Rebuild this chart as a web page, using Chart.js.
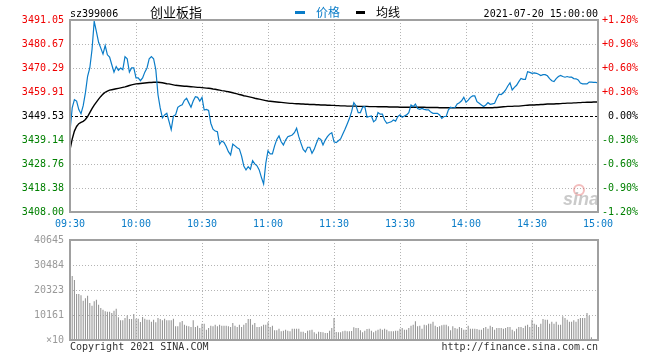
<!DOCTYPE html>
<html>
<head>
<meta charset="utf-8">
<script src="https://cdn.jsdelivr.net/npm/chart.js@4.4.0/dist/chart.umd.min.js"></script>
<style>
  body { margin: 0; background: #fff; }
  #wrap { position: relative; width: 660px; height: 360px; }
  #priceChart { position: absolute; left: 0; top: 0; }
  #volChart { position: absolute; left: 0; top: 228px; }
</style>
</head>
<body>
<div id="wrap">
  <canvas id="priceChart" width="660" height="236"></canvas>
  <canvas id="volChart" width="660" height="132"></canvas>
</div>
<script>
// axis data
const timeLabels = ['09:30', '10:00', '10:30', '11:00', '11:30', '13:30', '14:00', '14:30', '15:00'];
const tickMinutes = [0, 30, 60, 90, 120, 150, 180, 210, 240];
const priceTicks = [3408.00, 3418.38, 3428.76, 3439.14, 3449.53, 3459.91, 3470.29, 3480.67, 3491.05];
const pctLabels = ['-1.20%', '-0.90%', '-0.60%', '-0.30%', ' 0.00%', '+0.30%', '+0.60%', '+0.90%', '+1.20%'];
const volTicks = [0, 10161, 20323, 30484, 40645];
const volTickLabels = ['×10', '10161', '20323', '30484', '40645'];
const basePrice = 3449.53;

// one value per minute, 09:30 .. 11:30/13:00 .. 15:00
const price = [
  3443.0, 3453.0, 3456.6, 3456.0, 3452.3, 3450.5, 3454.0, 3459.5, 3466.7, 3470.3,
  3478.2, 3490.5, 3486.0, 3481.4, 3478.9, 3476.3, 3480.0, 3476.0, 3475.0, 3471.7,
  3468.5, 3470.9, 3469.3, 3470.3, 3469.6, 3475.2, 3474.3, 3468.5, 3470.3, 3470.3,
  3466.0, 3466.0, 3464.8, 3466.0, 3468.5, 3470.3, 3474.3, 3475.2, 3474.3, 3469.6,
  3458.7, 3453.0, 3448.7, 3450.0, 3450.7, 3447.2, 3443.6, 3449.5, 3450.0, 3453.3,
  3454.0, 3454.4, 3456.3, 3457.2, 3455.2, 3453.3, 3456.0, 3457.9, 3457.6, 3456.0,
  3457.6, 3452.1, 3452.4, 3451.9, 3446.4, 3443.8, 3443.0, 3442.7, 3437.3, 3438.7,
  3438.1, 3436.3, 3434.1, 3432.7, 3437.4, 3436.6, 3435.8, 3435.2, 3432.2, 3427.9,
  3426.2, 3427.6, 3426.5, 3430.2, 3428.8, 3428.0, 3426.2, 3423.0, 3420.1, 3429.1,
  3434.5, 3433.1, 3433.1, 3436.6, 3439.4, 3440.9, 3438.4, 3437.0, 3439.1, 3440.6,
  3440.9, 3441.3, 3442.3, 3444.2, 3440.6, 3437.7, 3435.1, 3434.0, 3436.0, 3436.0,
  3433.4, 3435.1, 3437.7, 3440.0, 3439.4, 3437.0, 3439.1, 3440.6, 3441.7, 3442.3,
  3438.4, 3438.0, 3438.8, 3439.6, 3441.7, 3443.8, 3446.1, 3448.4, 3451.4, 3455.3,
  3453.9, 3451.0, 3451.0, 3453.3, 3453.6, 3449.0, 3449.3, 3449.5, 3447.0, 3447.8,
  3451.0, 3450.3, 3450.3, 3447.8, 3446.4, 3446.7, 3447.0, 3447.8, 3447.3, 3449.3,
  3450.0, 3449.0, 3449.5, 3450.0, 3451.0, 3454.3, 3453.6, 3454.7, 3452.8, 3452.4,
  3452.8, 3452.4, 3452.2, 3452.2, 3451.2, 3450.7, 3450.7, 3450.7, 3450.0, 3448.5,
  3449.3, 3449.3, 3452.2, 3453.3, 3453.0, 3453.2, 3454.7, 3455.3, 3456.1, 3457.6,
  3455.5, 3456.4, 3457.6, 3458.2, 3458.2, 3455.7, 3455.0, 3454.3, 3453.6, 3454.3,
  3455.3, 3454.6, 3454.8, 3455.0, 3457.2, 3459.0, 3458.8, 3459.6, 3460.8, 3462.5,
  3463.9, 3460.8, 3461.9, 3462.8, 3464.4, 3465.8, 3465.4, 3465.4, 3468.7, 3468.4,
  3468.0, 3468.2, 3468.0, 3467.6, 3467.0, 3467.4, 3467.4, 3466.9, 3465.7, 3464.8,
  3464.4, 3465.7, 3466.6, 3467.1, 3466.6, 3466.3, 3466.6, 3466.3, 3466.3, 3465.7,
  3465.6, 3465.1, 3463.8, 3463.4, 3463.4, 3463.4, 3464.2, 3464.2, 3464.1, 3464.1,
  3463.7
];

const avgPrice = [
  3435.0, 3439.5, 3443.0, 3445.0, 3446.2, 3446.8, 3447.2, 3448.0, 3449.3, 3451.0,
  3452.7, 3454.2, 3455.5, 3456.8, 3458.0, 3459.0, 3459.8, 3460.3, 3460.7, 3460.9,
  3461.1, 3461.3, 3461.5, 3461.7, 3461.9, 3462.1, 3462.4, 3462.7, 3463.0, 3463.2,
  3463.4, 3463.5, 3463.6, 3463.7, 3463.8, 3463.9, 3464.0, 3464.0, 3464.1, 3464.1,
  3464.1, 3464.0, 3463.9, 3463.7, 3463.5, 3463.4, 3463.2, 3463.0, 3462.8, 3462.7,
  3462.6, 3462.5, 3462.4, 3462.4, 3462.3, 3462.2, 3462.1, 3462.0, 3461.9, 3461.9,
  3461.8, 3461.7, 3461.6, 3461.5, 3461.4, 3461.2, 3461.1, 3460.9, 3460.7, 3460.5,
  3460.4, 3460.2, 3460.0, 3459.8, 3459.6, 3459.3, 3459.1, 3458.8, 3458.6, 3458.3,
  3458.1, 3457.9, 3457.7, 3457.5, 3457.2, 3457.0, 3456.8, 3456.6, 3456.4, 3456.2,
  3456.0, 3455.9, 3455.8, 3455.7, 3455.6, 3455.5, 3455.4, 3455.3, 3455.2, 3455.1,
  3455.0, 3455.0, 3454.9, 3454.8, 3454.8, 3454.7, 3454.7, 3454.6, 3454.6, 3454.5,
  3454.5, 3454.5, 3454.4, 3454.4, 3454.3, 3454.3, 3454.3, 3454.2, 3454.2, 3454.1,
  3454.1, 3454.0, 3454.0, 3453.9, 3453.9, 3453.9, 3453.8, 3453.8, 3453.8, 3453.8,
  3453.8, 3453.7, 3453.7, 3453.7, 3453.7, 3453.7, 3453.6, 3453.6, 3453.6, 3453.6,
  3453.5, 3453.5, 3453.5, 3453.5, 3453.5, 3453.4, 3453.4, 3453.4, 3453.4, 3453.4,
  3453.3, 3453.3, 3453.3, 3453.3, 3453.3, 3453.3, 3453.3, 3453.3, 3453.3, 3453.3,
  3453.3, 3453.3, 3453.2, 3453.2, 3453.2, 3453.2, 3453.2, 3453.2, 3453.1, 3453.1,
  3453.1, 3453.1, 3453.1, 3453.1, 3453.1, 3453.1, 3453.1, 3453.1, 3453.1, 3453.1,
  3453.1, 3453.1, 3453.1, 3453.1, 3453.1, 3453.1, 3453.1, 3453.1, 3453.1, 3453.1,
  3453.1, 3453.1, 3453.1, 3453.2, 3453.2, 3453.3, 3453.4, 3453.5, 3453.6, 3453.7,
  3453.7, 3453.7, 3453.8, 3453.8, 3453.8, 3453.9, 3454.0, 3454.1, 3454.2, 3454.3,
  3454.3, 3454.3, 3454.4, 3454.4, 3454.5, 3454.5, 3454.6, 3454.7, 3454.7, 3454.7,
  3454.7, 3454.8, 3454.8, 3454.9, 3455.0, 3455.0, 3455.1, 3455.1, 3455.1, 3455.2,
  3455.2, 3455.3, 3455.3, 3455.4, 3455.4, 3455.5, 3455.5, 3455.5, 3455.6, 3455.6,
  3455.6
];

// volume, in the chart's x10 units
const volume = [
  40645, 26000, 24400, 18700, 18700, 18160, 16000, 17000, 18000, 15000,
  13950, 15700, 16400, 14350, 13000, 12300, 11650, 11500, 11500, 11000,
  11900, 12700, 9200, 8000, 8000, 8940, 10000, 8500, 8500, 10600,
  8670, 8670, 7316, 9350, 8670, 8265, 8265, 7450, 8265, 7180,
  8940, 8535, 7990, 8670, 7990, 7990, 7990, 8670, 5550, 5550,
  7180, 7720, 6230, 5825, 5550, 5280, 7990, 5280, 5825, 4880,
  6640, 6640, 4200, 4880, 5825, 5555, 6230, 5555, 6230, 5825,
  5825, 5825, 5555, 5285, 6910, 5825, 5285, 6230, 5285, 6230,
  6910, 8535, 8535, 6230, 6910, 5285, 5285, 5555, 6230, 6230,
  7180, 5285, 5825, 3930, 3930, 4605, 3520, 3795, 4200, 3795,
  3520, 4605, 4605, 4605, 4605, 3390, 3390, 2850, 3795, 3930,
  4200, 3115, 2575, 3390, 3250, 3115, 2850, 2850, 3800, 4880,
  8940, 3250, 3115, 3115, 3520, 3795, 3520, 3520, 3650, 5150,
  4880, 4880, 3930, 3115, 3795, 4470, 4605, 3795, 3115, 3795,
  4200, 4605, 4200, 4605, 4200, 3520, 3520, 3520, 3795, 3795,
  4605, 4880, 4200, 4200, 4880, 5825, 6230, 7590, 5555, 5825,
  4605, 6230, 5960, 6640, 6640, 7450, 5825, 5285, 5555, 5960,
  6230, 6230, 5555, 3930, 5555, 4880, 4605, 5285, 4880, 4200,
  4200, 5825, 4605, 4605, 4605, 4470, 4200, 4200, 4880, 5285,
  4605, 5825, 5285, 4200, 4880, 4880, 4880, 4605, 4880, 5285,
  5285, 4200, 3520, 4605, 5285, 5285, 4880, 5825, 6230, 5285,
  8265, 6640, 6230, 5285, 6640, 8535, 8265, 8265, 6640, 7450,
  6640, 7450, 6230, 6230, 9620, 8940, 8265, 7450, 7450, 7995,
  7450, 8535, 8940, 8940, 8940, 10975, 9890, 1085, 0, 0,
  0
];

const MONO = "'DejaVu Sans Mono', 'Liberation Mono', monospace";
const CJK = "'Noto Sans CJK SC', sans-serif";
const RED = '#f00000';
const GREEN = '#008000';
const BLUE = '#0a7cc8';
const GRID = '#b4b4b4';
const FRAME = '#a0a0a0';

Chart.defaults.font.family = MONO;
Chart.defaults.font.size = 10;

function tickColor(i) {
  if (i > 4) return RED;
  if (i < 4) return GREEN;
  return '#000';
}

// dotted grid from the scales, frame round the chart area
function drawGrid(chart, hValues) {
  const { ctx, chartArea: a, scales } = chart;
  ctx.save();
  ctx.strokeStyle = GRID;
  ctx.lineWidth = 1;
  ctx.setLineDash([1, 2]);
  ctx.beginPath();
  tickMinutes.forEach(v => {
    const px = Math.round(scales.x.getPixelForValue(v)) + 0.5;
    if (px <= a.left + 2 || px >= a.right - 2) return;
    ctx.moveTo(px, a.top);
    ctx.lineTo(px, a.bottom);
  });
  hValues.forEach(v => {
    const py = Math.round(scales.y.getPixelForValue(v)) + 0.5;
    if (py <= a.top + 2 || py >= a.bottom - 2) return;
    ctx.moveTo(a.left, py);
    ctx.lineTo(a.right, py);
  });
  ctx.stroke();
  ctx.restore();
}

function drawFrame(chart) {
  const { ctx, chartArea: a } = chart;
  ctx.save();
  ctx.strokeStyle = FRAME;
  ctx.lineWidth = 2;
  ctx.strokeRect(a.left, a.top, a.right - a.left, a.bottom - a.top);
  ctx.restore();
}

const priceDecor = {
  id: 'priceDecor',
  beforeDatasetsDraw(chart) {
    const { ctx, chartArea: a, scales } = chart;
    drawGrid(chart, priceTicks.filter(v => v !== basePrice));
    // dashed line at previous close
    const py = Math.round(scales.y.getPixelForValue(basePrice)) + 0.5;
    ctx.save();
    ctx.strokeStyle = '#000';
    ctx.lineWidth = 1;
    ctx.setLineDash([3, 2]);
    ctx.beginPath();
    ctx.moveTo(a.left, py);
    ctx.lineTo(a.right, py);
    ctx.stroke();
    ctx.restore();
    // faint sina mark
    ctx.save();
    ctx.strokeStyle = 'rgba(225, 90, 90, 0.4)';
    ctx.lineWidth = 2;
    ctx.beginPath();
    ctx.arc(579, 190, 5, 0, Math.PI * 2);
    ctx.stroke();
    ctx.font = "italic bold 18px 'Liberation Sans', sans-serif";
    ctx.fillStyle = 'rgba(150, 150, 150, 0.5)';
    ctx.fillText('sina', 563, 205);
    ctx.restore();
  },
  afterDatasetsDraw(chart) {
    drawFrame(chart);
  },
  afterDraw(chart) {
    const ctx = chart.ctx;
    ctx.save();
    ctx.textBaseline = 'alphabetic';
    ctx.fillStyle = '#000';
    ctx.font = '10px ' + MONO;
    ctx.textAlign = 'left';
    ctx.fillText('sz399006', 70, 17);
    ctx.textAlign = 'right';
    ctx.fillText('2021-07-20 15:00:00', 598, 17);
    ctx.textAlign = 'left';
    ctx.textBaseline = 'middle';
    ctx.font = '13px ' + CJK;
    ctx.fillText('创业板指', 150, 12.5);
    ctx.font = '12px ' + CJK;
    ctx.fillStyle = BLUE;
    ctx.fillRect(295, 11, 10, 3);
    ctx.fillText('价格', 316, 12.5);
    ctx.fillStyle = '#000';
    ctx.fillRect(356, 11, 9, 3);
    ctx.fillText('均线', 376, 12.5);
    ctx.restore();
  }
};

const volDecor = {
  id: 'volDecor',
  beforeDatasetsDraw(chart) {
    drawGrid(chart, volTicks);
  },
  afterDatasetsDraw(chart) {
    drawFrame(chart);
  },
  afterDraw(chart) {
    const { ctx, chartArea: a } = chart;
    ctx.save();
    ctx.font = '10px ' + MONO;
    ctx.fillStyle = '#333';
    ctx.textBaseline = 'alphabetic';
    ctx.textAlign = 'left';
    ctx.fillText('Copyright 2021 SINA.COM', a.left, a.bottom + 9.5);
    ctx.textAlign = 'right';
    ctx.fillText('http://finance.sina.com.cn', a.right, a.bottom + 9.5);
    ctx.restore();
  }
};

const xScale = (showLabels, height) => ({
  type: 'linear',
  min: 0,
  max: 240,
  offset: false,
  afterBuildTicks: s => { s.ticks = tickMinutes.map(v => ({ value: v })); },
  ticks: {
    display: showLabels,
    callback: (v, i) => timeLabels[i],
    color: BLUE,
    padding: 6,
    autoSkip: false,
    maxRotation: 0,
    minRotation: 0
  },
  grid: { display: false, drawTicks: false },
  border: { display: false },
  afterFit: s => { s.height = height; }
});

new Chart(document.getElementById('priceChart'), {
  type: 'line',
  data: {
    datasets: [
      {
        label: '价格',
        data: price.map((v, i) => ({ x: i, y: v })),
        borderColor: BLUE,
        borderWidth: 1.2,
        pointRadius: 0,
        tension: 0
      },
      {
        label: '均线',
        data: avgPrice.map((v, i) => ({ x: i, y: v })),
        borderColor: '#000',
        borderWidth: 1.4,
        pointRadius: 0,
        tension: 0
      }
    ]
  },
  options: {
    responsive: false,
    animation: false,
    events: [],
    layout: { padding: { top: 20, left: 0, right: 0, bottom: 0 } },
    plugins: { legend: { display: false }, tooltip: { enabled: false } },
    scales: {
      x: xScale(true, 24),
      y: {
        position: 'left',
        min: 3408,
        max: 3491.05,
        afterBuildTicks: s => { s.ticks = priceTicks.map(v => ({ value: v })); },
        ticks: {
          callback: v => v.toFixed(2),
          color: c => tickColor(c.index),
          padding: 6,
          autoSkip: false
        },
        grid: { display: false, drawTicks: false },
        border: { display: false },
        afterFit: s => { s.width = 70; }
      },
      yPct: {
        position: 'right',
        min: 3408,
        max: 3491.05,
        afterBuildTicks: s => { s.ticks = priceTicks.map(v => ({ value: v })); },
        ticks: {
          callback: (v, i) => pctLabels[i],
          color: c => tickColor(c.index),
          padding: 4,
          autoSkip: false
        },
        grid: { display: false, drawTicks: false },
        border: { display: false },
        afterFit: s => { s.width = 62; }
      }
    }
  },
  plugins: [priceDecor]
});

new Chart(document.getElementById('volChart'), {
  type: 'bar',
  data: {
    datasets: [{
      label: 'volume',
      data: volume.map((v, i) => ({ x: i, y: v })),
      backgroundColor: '#8e8e8e',
      borderWidth: 0,
      inflateAmount: 0,
      barThickness: 1
    }]
  },
  options: {
    responsive: false,
    animation: false,
    events: [],
    layout: { padding: { top: 12, left: 0, right: 62, bottom: 0 } },
    plugins: { legend: { display: false }, tooltip: { enabled: false } },
    scales: {
      x: xScale(false, 20),
      y: {
        position: 'left',
        min: 0,
        max: 40645,
        afterBuildTicks: s => { s.ticks = volTicks.map(v => ({ value: v })); },
        ticks: {
          callback: (v, i) => volTickLabels[i],
          color: '#999999',
          padding: 6,
          autoSkip: false
        },
        grid: { display: false, drawTicks: false },
        border: { display: false },
        afterFit: s => { s.width = 70; }
      }
    }
  },
  plugins: [volDecor]
});
</script>
</body>
</html>
